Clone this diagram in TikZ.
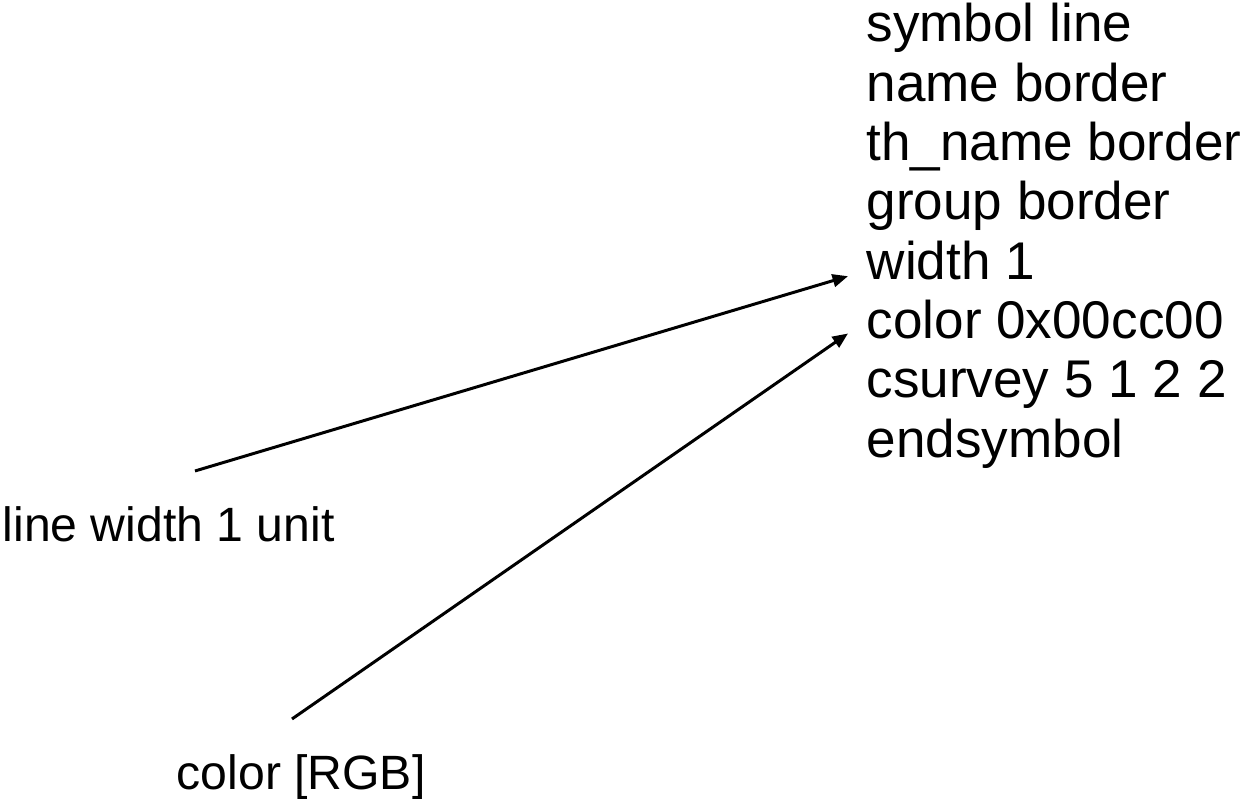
\documentclass[tikz,border=0pt]{standalone}
\usepackage{fontspec}
\setmainfont{Liberation Sans}
\usetikzlibrary{arrows.meta}

\begin{document}
\begin{tikzpicture}[x=1cm, y=-1cm,
    entry/.style ={anchor=base west, inner sep=0pt, font=\fontsize{15.1}{17}\selectfont},
    remark/.style ={anchor=base west, inner sep=0pt, font=\fontsize{13.7}{16}\selectfont},
    pointer/.style ={line width=0.85pt, -{Triangle[length=4.4pt, width=3.6pt]}}]
   \useasboundingbox (0,0) rectangle (12.46,8.01);
   \node[entry] (sym) at (8.66,0.42) {symbol line};
   \node[entry] (nam) at (8.66,1.013) {name border};
   \node[entry] (thn) at (8.66,1.606) {th\_name border};
   \node[entry] (grp) at (8.66,2.199) {group border};
   \node[entry] (wid) at (8.66,2.792) {width 1};
   \node[entry] (col) at (8.66,3.385) {color 0x00cc00};
   \node[entry] (csv) at (8.66,3.978) {csurvey 5 1 2 2};
   \node[entry] (end) at (8.66,4.571) {endsymbol};
   \node[remark] (lw) at (0.02,5.42) {line width 1 unit};
   \node[remark] (rgb) at (1.76,7.90) {color [RGB]};
   \coordinate (lwfoot) at (1.95,4.71);
   \coordinate (rgbfoot) at (2.92,7.19);
   \draw[pointer] (lwfoot) to ([xshift=-0.18cm, yshift=0.03cm]wid.base west);
   \draw[pointer] (rgbfoot) to ([xshift=-0.18cm, yshift=0.05cm]col.base west);
 \end{tikzpicture}
\end{document}
